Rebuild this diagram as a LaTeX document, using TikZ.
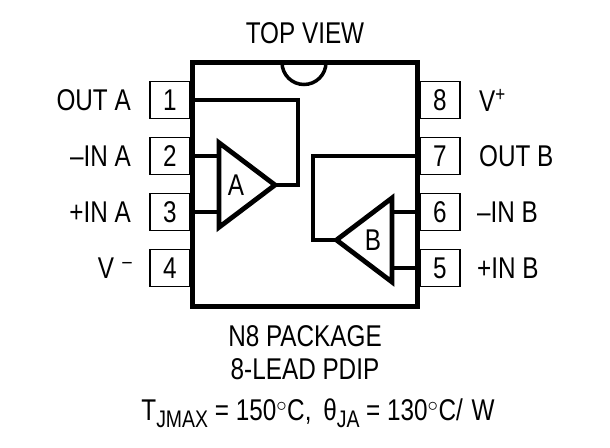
\documentclass[tikz,border=0pt]{standalone}
\usepackage{fontspec}
\setmainfont[FakeStretch=0.81]{Liberation Sans}
\usetikzlibrary{positioning}
\newcommand{\lowtext}[1]{\raisebox{-7pt}{\fontsize{24}{24}\selectfont #1}}
\newcommand{\hightext}[1]{\raisebox{10pt}{\fontsize{21}{21}\selectfont #1}}

\begin{document}
\begin{tikzpicture}[
        x=1pt, y=-1pt,
        pinbox/.style={rectangle, draw, line width=1.5pt, outer sep=0pt, minimum width=40pt, minimum height=37pt, font=\fontsize{30}{30}\selectfont},
        package/.style={rectangle, draw, line width=5pt, outer sep=0pt, minimum width=225pt, minimum height=244pt},
        label/.style={font=\fontsize{30}{30}\selectfont, inner sep=0pt},
        caption/.style={font=\fontsize{30}{33}\selectfont, align=center, inner sep=0pt},
        wire/.style={draw, line width=4pt, line join=miter},
        amp/.style={draw, line width=4.8pt, line join=miter, miter limit=10},
        node distance=19pt and 19pt
        ]
        \useasboundingbox (0,0) rectangle (610,447);

        % Pins
        \node (pin1) [pinbox] at (170,100) {1};
        \node (pin2) [pinbox, below=of pin1] {2};
        \node (pin3) [pinbox, below=of pin2] {3};
        \node (pin4) [pinbox, below=of pin3] {4};
        \node (pin8) [pinbox] at (440,100) {8};
        \node (pin7) [pinbox, below=of pin8] {7};
        \node (pin6) [pinbox, below=of pin7] {6};
        \node (pin5) [pinbox, below=of pin6] {5};

        % Package
        \node (chip) [package] at (305,184.5) {};
        \draw [line width=3.5pt] (282,62.5) arc[start angle=180, end angle=0, x radius=22pt, y radius=-22pt];

        % Pin labels
        \node (outa) [label, left=19pt of pin1.west, anchor=east] {OUT A};
        \node (inna) [label, left=19pt of pin2.west, anchor=east] {\char"2013IN A};
        \node (inpa) [label, left=19pt of pin3.west, anchor=east] {+IN A};
        \node (vneg) [label, left=18pt of pin4.west, anchor=east] {V\;\hightext{\char"2013}};
        \node (vpos) [label, right=19pt of pin8.east, anchor=west] {V\hightext{+}};
        \node (outb) [label, right=19pt of pin7.east, anchor=west] {OUT B};
        \node (innb) [label, right=17pt of pin6.east, anchor=west] {\char"2013IN B};
        \node (inpb) [label, right=17pt of pin5.east, anchor=west] {+IN B};

        % Amplifiers
        \coordinate (atop) at (219,142.7);
        \coordinate (abot) at (219,227.3);
        \coordinate (atip) at (275,185);
        \coordinate (btop) at (392,198);
        \coordinate (bbot) at (392,282);
        \coordinate (btip) at (336.5,240);
        \draw [amp] (atop) -- (atip) -- (abot) -- cycle;
        \draw [amp] (btop) -- (btip) -- (bbot) -- cycle;
        \node (ampa) [label] at (236,185) {A};
        \node (ampb) [label] at (373,240) {B};

        % Wires
        \draw [wire] (pin1.east) -| (298,185) -- (atip);
        \draw [wire] (pin2.east) -- (atop |- pin2.east);
        \draw [wire] (pin3.east) -- (atop |- pin3.east);
        \draw [wire] (pin7.west) -| (313,240) -- (btip);
        \draw [wire] (pin6.west) -- (btop |- pin6.west);
        \draw [wire] (pin5.west) -- (btop |- pin5.west);

        % Captions
        \node (topview) [label] at (305,33) {TOP VIEW};
        \node (pkgname) [caption] at (305,353) {N8 PACKAGE\\8-LEAD PDIP};
        \node (thermal) [label] at (318,413) {T\lowtext{JMAX} = 150$^{\circ}$C,\hspace{5pt} \char"03B8\lowtext{JA} = 130$^{\circ}$C/\hspace{2pt} W};

    \end{tikzpicture}
\end{document}
